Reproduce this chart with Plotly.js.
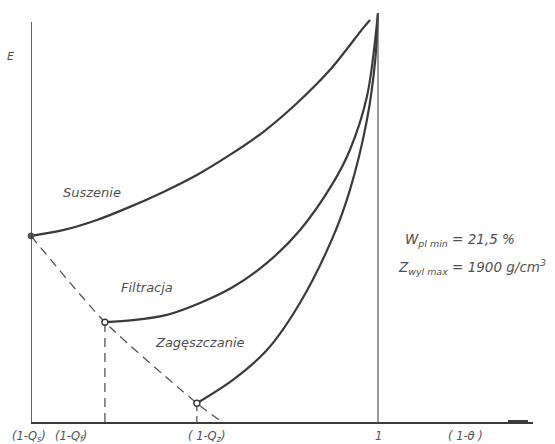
<!DOCTYPE html>
<html>
<head>
<meta charset="utf-8">
<script src="https://cdn.plot.ly/plotly-3.0.1.min.js"></script>
<style>html,body{margin:0;padding:0;background:#fff;}#chart{width:555px;height:444px;}</style>
</head>
<body>
<div id="chart"></div>
<script>
// Data (x = relative moisture coordinate, 1 at the "1" mark; E = relative energy)
const X_SUSZENIE = [0, 0.092, 0.190, 0.285, 0.380, 0.478, 0.573, 0.669, 0.767, 0.862, 0.957, 0.977];
const E_SUSZENIE = [0.455, 0.469, 0.494, 0.526, 0.562, 0.604, 0.653, 0.709, 0.780, 0.861, 0.963, 0.983];
const X_FILTRACJA = [0.213, 0.294, 0.392, 0.487, 0.582, 0.680, 0.775, 0.870, 0.919, 0.968, 1.0];
const E_FILTRACJA = [0.244, 0.249, 0.262, 0.291, 0.330, 0.389, 0.469, 0.584, 0.665, 0.795, 1.0];
const X_ZAGESZCZANIE = [0.478, 0.582, 0.680, 0.775, 0.870, 0.919, 0.968, 0.992, 1.0];
const E_ZAGESZCZANIE = [0.046, 0.103, 0.176, 0.291, 0.452, 0.567, 0.738, 0.885, 1.0];
const X_BOUNDARY = [0, 0.213, 0.478, 0.550];
const E_BOUNDARY = [0.455, 0.244, 0.046, 0];
const X_ONE = 1.0;
const E_TOP = 1.0;
const E_AXIS_TOP = 0.978;
const TICK_LABELS = ["(1-Q<sub>s</sub>)", "(1-Q<sub>f</sub>)", "( 1-Q<sub>z</sub>)", "1", "( 1-θ )"];
const CURVE_LABELS = ["Suszenie", "Filtracja", "Zagęszczanie"];
const NOTE_LINES = ["W<sub>pl min</sub> = 21,5 %", "Z<sub>wyl max</sub> = 1900 g/cm<sup>3</sup>"];

const W = 555, H = 444;
const M = {l: 31, r: 22, t: 10, b: 22};
const plotW = W - M.l - M.r, plotH = H - M.t - M.b;
const X_RANGE = [0, plotW / 347];
const Y_RANGE = [0, plotH / 409];
// pixel -> paper / data helpers for text placement
const px2p = p => (p - M.l) / plotW;
const py2p = p => (H - M.b - p) / plotH;
const py2y = p => py2p(p) * (Y_RANGE[1] - Y_RANGE[0]) + Y_RANGE[0];

const INK = '#3a3a3a';
const FONT = {family: 'DejaVu Sans', size: 12, color: '#505050'};

const curve = (x, y) => ({x, y, mode: 'lines', type: 'scatter', hoverinfo: 'skip',
  line: {color: INK, width: 2.2, shape: 'spline', smoothing: 0.9}});

const traces = [
  curve(X_SUSZENIE, E_SUSZENIE),
  curve(X_FILTRACJA, E_FILTRACJA),
  curve(X_ZAGESZCZANIE, E_ZAGESZCZANIE),
  {x: X_BOUNDARY, y: E_BOUNDARY, mode: 'lines', type: 'scatter',
   line: {color: '#555', width: 1.3, dash: '9px,6px', shape: 'spline', smoothing: 0.6}},
  {x: [X_FILTRACJA[0], X_FILTRACJA[0]], y: [0, E_FILTRACJA[0]], mode: 'lines', type: 'scatter',
   line: {color: '#555', width: 1.3, dash: '9px,6px'}},
  {x: [X_ZAGESZCZANIE[0], X_ZAGESZCZANIE[0]], y: [0, E_ZAGESZCZANIE[0]], mode: 'lines', type: 'scatter',
   line: {color: '#555', width: 1.3, dash: '6px,5px'}},
  {x: [X_ONE, X_ONE], y: [0, E_TOP], mode: 'lines', type: 'scatter',
   line: {color: '#555', width: 1.2}},
  {x: [X_SUSZENIE[0]], y: [E_SUSZENIE[0]], mode: 'markers', type: 'scatter', cliponaxis: false,
   marker: {size: 6, color: '#555', line: {color: '#555', width: 1}}},
  {x: [X_FILTRACJA[0], X_ZAGESZCZANIE[0]], y: [E_FILTRACJA[0], E_ZAGESZCZANIE[0]],
   mode: 'markers', type: 'scatter', cliponaxis: false,
   marker: {size: 6, color: '#fff', line: {color: INK, width: 1.4}}}
];

const ann = (text, px, py, size, xanchor) => ({text: '<i>' + text + '</i>', x: px2p(px), y: py2p(py),
  xref: 'paper', yref: 'paper', showarrow: false, xanchor: xanchor || 'center', yanchor: 'middle',
  font: Object.assign({}, FONT, {size: size || 12})});

const annotations = [
  ann('E', 10, 57, 11),
  ann(TICK_LABELS[0], 29, 436, 11.5),
  ann(TICK_LABELS[1], 71, 436, 11.5),
  ann(TICK_LABELS[2], 206, 436, 11.5),
  ann(TICK_LABELS[3], 378, 436, 11.5),
  ann(TICK_LABELS[4], 465, 436, 11.5),
  ann(CURVE_LABELS[0], 92, 192, 13),
  ann(CURVE_LABELS[1], 147, 288, 13),
  ann(CURVE_LABELS[2], 200, 342, 13),
  ann(NOTE_LINES[0], 403, 240, 13.5, 'left'),
  ann(NOTE_LINES[1], 396, 267, 13.5, 'left')
];

const shapes = [
  {type: 'line', xref: 'x', yref: 'y', x0: 0, x1: 0, y0: py2y(425), y1: E_AXIS_TOP,
   line: {color: INK, width: 1.6}},
  {type: 'line', xref: 'paper', yref: 'y', x0: px2p(508), x1: px2p(528), y0: 0, y1: 0,
   line: {color: INK, width: 4}}
];

const layout = {
  width: W, height: H, margin: M, showlegend: false,
  paper_bgcolor: '#fff', plot_bgcolor: '#fff',
  xaxis: {range: X_RANGE, showgrid: false, zeroline: false, showline: true, linecolor: INK, linewidth: 1.5,
          showticklabels: false, ticks: '', fixedrange: true},
  yaxis: {range: Y_RANGE, showgrid: false, zeroline: false, showline: false,
          showticklabels: false, ticks: '', fixedrange: true},
  annotations, shapes
};

Plotly.newPlot('chart', traces, layout, {displayModeBar: false, staticPlot: true});
</script>
</body>
</html>
